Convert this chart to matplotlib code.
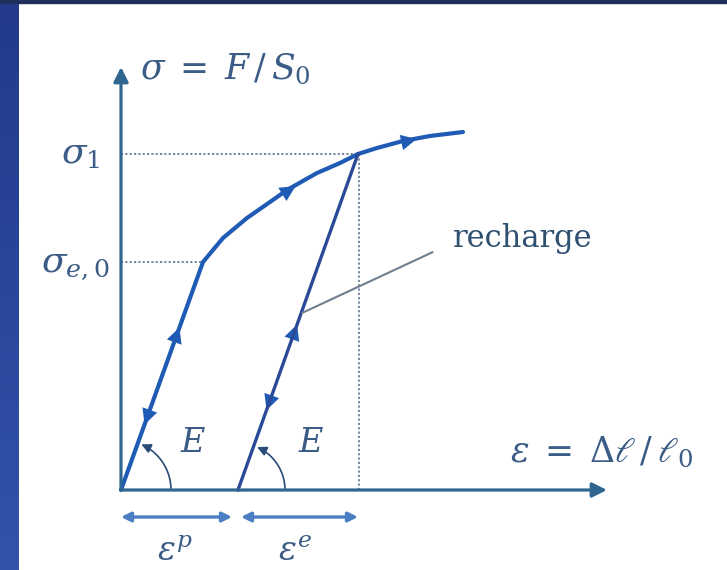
import numpy as np
import matplotlib
matplotlib.use("Agg")
import matplotlib.pyplot as plt
from matplotlib.patches import FancyArrowPatch, Rectangle
from matplotlib.path import Path

plt.rcParams['mathtext.fontset'] = 'dejavuserif'
plt.rcParams['font.family'] = ['DejaVu Serif']

# diagram values (strain, stress) in drawing units
load_eps = [0, 82, 102, 126, 149, 166, 196, 219, 237, 256, 282, 309, 342]
load_sig = [0, 228, 252, 272, 288, 300, 317, 327, 336, 342, 349, 354, 358]
sig_e0 = 228
sig_1 = 336
eps_1 = 237
eps_p = 117
eps_axis_end = 486
sig_axis_end = 423

curve_col = '#1f5bb5'
unload_col = '#2a4a98'
axis_col = '#2f6690'
text_col = '#3b5c86'
dot_col = '#6a7f96'

fig = plt.figure(figsize=(7.27, 5.70), dpi=100, facecolor='white')
ax = fig.add_axes([0, 0, 1, 1])
ax.set_xlim(-121, 606)
ax.set_ylim(-80, 490)
ax.axis('off')

# frame decoration (blue slide border)
strip = fig.add_axes([0, 0, 19 / 727, 1])
strip.imshow(np.linspace(0, 1, 100)[:, None], aspect='auto',
             cmap=matplotlib.colors.LinearSegmentedColormap.from_list('b', ['#233a8a', '#3153aa']))
strip.axis('off')
fig.add_artist(Rectangle((0, 1 - 3 / 570), 1, 3 / 570, transform=fig.transFigure, color='#1e2f5c'))

# axes arrows
ax.annotate('', xy=(eps_axis_end, 0), xytext=(0, 0),
            arrowprops=dict(arrowstyle='-|>', color=axis_col, lw=2.3, mutation_scale=22, shrinkA=0, shrinkB=0))
ax.annotate('', xy=(0, sig_axis_end), xytext=(0, 0),
            arrowprops=dict(arrowstyle='-|>', color=axis_col, lw=2.3, mutation_scale=22, shrinkA=0, shrinkB=0))

# dotted guide lines
ax.plot([0, eps_1 + 1], [sig_1, sig_1], ls=(0, (1.2, 1.2)), color=dot_col, lw=1.3)
ax.plot([0, load_eps[1]], [sig_e0, sig_e0], ls=(0, (1.2, 1.2)), color=dot_col, lw=1.3)
ax.plot([eps_1 + 1, eps_1 + 1], [0, sig_1], ls=(0, (1.2, 1.2)), color=dot_col, lw=1.3)

# loading curve and unloading line
ax.plot(load_eps, load_sig, color=curve_col, lw=3, solid_capstyle='round', solid_joinstyle='round')
ax.plot([eps_p, eps_1], [0, sig_1], color=unload_col, lw=2.4)


def mid_arrow(p0, p1, t, up=True, col=curve_col):
    p0 = np.array(p0, float)
    p1 = np.array(p1, float)
    d = (p1 - p0) / np.hypot(*(p1 - p0))
    c = p0 + t * (p1 - p0)
    if not up:
        d = -d
    ax.add_patch(FancyArrowPatch(c - d * 8, c + d * 8, arrowstyle='-|>', mutation_scale=28,
                                 color=col, lw=0, shrinkA=0, shrinkB=0))


mid_arrow((0, 0), (load_eps[1], sig_e0), 0.68, up=True)
mid_arrow((0, 0), (load_eps[1], sig_e0), 0.32, up=False)
mid_arrow((eps_p, 0), (eps_1, sig_1), 0.47, up=True)
mid_arrow((eps_p, 0), (eps_1, sig_1), 0.26, up=False)
mid_arrow((load_eps[4], load_sig[4]), (load_eps[6], load_sig[6]), 0.4)
mid_arrow((load_eps[9], load_sig[9]), (load_eps[11], load_sig[11]), 0.6)

# angle arcs labelled E
for x0, r in [(0, 50), (eps_p, 47)]:
    ang = np.radians(np.linspace(0, 66, 30))
    verts = np.column_stack([x0 + r * np.cos(ang), r * np.sin(ang)])
    ax.add_patch(FancyArrowPatch(path=Path(verts), arrowstyle='-|>', mutation_scale=14,
                                 color='#2a4a78', lw=1.2))
ax.text(72, 47, '$E$', fontsize=24, color=text_col, ha='center', va='center')
ax.text(190, 47, '$E$', fontsize=24, color=text_col, ha='center', va='center')

# strain part arrows
for a, b in [(0, eps_p - 6), (eps_p + 3, eps_1)]:
    ax.annotate('', xy=(b, -27), xytext=(a, -27),
                arrowprops=dict(arrowstyle='<|-|>', color='#4a7fc4', lw=2.4, mutation_scale=14,
                                shrinkA=0, shrinkB=0))
ax.text(54, -62, r'$\varepsilon^{p}$', fontsize=24, color=text_col, ha='center', va='center')
ax.text(174, -62, r'$\varepsilon^{e}$', fontsize=24, color=text_col, ha='center', va='center')

# labels
ax.text(19, 421, r'$\sigma\;=\;F\,/\,S_0$', fontsize=25, color=text_col, ha='left', va='center')
ax.text(389, 38, r'$\varepsilon\;=\;\Delta\ell\,/\,\ell_0$', fontsize=25, color=text_col,
        ha='left', va='center')
ax.text(-21, sig_1, r'$\sigma_1$', fontsize=26, color=text_col, ha='right', va='center')
ax.text(-11, sig_e0 - 3, r'$\sigma_{e,0}$', fontsize=26, color=text_col, ha='right', va='center')

ax.annotate('recharge', xy=(181, 177), xytext=(332, 252), fontsize=22, color='#2f5070',
            va='center', ha='left',
            arrowprops=dict(arrowstyle='-', color='#6f7f8f', lw=1.5, shrinkA=14, shrinkB=0,
                            relpos=(0, 0.35)))

fig.savefig('out.png', dpi=100)
